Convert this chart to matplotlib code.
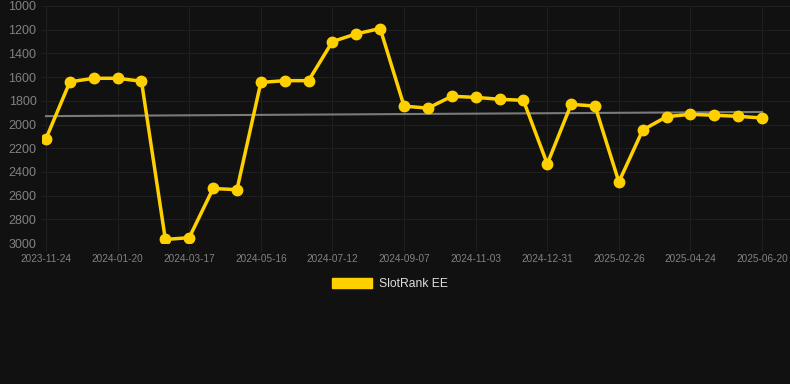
import matplotlib
matplotlib.use("Agg")
import matplotlib.pyplot as plt
import numpy as np

plt.rcParams['font.family'] = ['Liberation Sans', 'DejaVu Sans']

tick_labels = ["2023-11-24", "2024-01-20", "2024-03-17", "2024-05-16", "2024-07-12",
               "2024-09-07", "2024-11-03", "2024-12-31", "2025-02-26", "2025-04-24",
               "2025-06-20"]
ranks = [2120, 1640, 1610, 1610, 1635, 2970, 2955, 2540, 2550, 1645,
         1630, 1630, 1300, 1235, 1190, 1845, 1862, 1762, 1771, 1787,
         1796, 2333, 1830, 1844, 2485, 2046, 1934, 1914, 1922, 1931, 1945]
series_name = "SlotRank EE"

bg = "#111111"
fig = plt.figure(figsize=(7.9, 3.84), dpi=100, facecolor=bg)
ax = fig.add_axes([42/790, 1 - 243/384, 748/790, (243 - 6)/384], facecolor=bg)

x = np.arange(len(ranks))
y = np.array(ranks, dtype=float)

# trend line (linear regression)
coef = np.polyfit(x, y, 1)
ax.plot([x[0], x[-1]], np.polyval(coef, [x[0], x[-1]]), color="#7a7a7a", lw=1.5, zorder=2)

ax.plot(x, y, color="#FFD000", lw=2.5, marker="o", markersize=7.5,
        markerfacecolor="#FFD000", markeredgecolor="#FFD000", zorder=3, label=series_name)

step = 23.87
ax.set_ylim(3000, 1000)
ax.set_yticks(np.arange(1000, 3001, 200))
ax.set_xlim(-4/step, (790 - 46)/step)
ax.set_xticks(np.arange(0, len(ranks), 3))
ax.set_xticklabels(tick_labels)

ax.grid(True, color="#1f1f1f", lw=0.8)
for s in ax.spines.values():
    s.set_visible(False)
ax.tick_params(axis='y', length=0, labelsize=9, labelcolor="#828282", pad=4)
ax.tick_params(axis='x', length=6, color="#1f1f1f", labelsize=7.2, labelcolor="#828282", pad=2)
ax.axhline(3000, color="#262626", lw=0.8, zorder=1)

leg = fig.legend(handles=[plt.Rectangle((0, 0), 1, 1, color="#FFD000")], labels=[series_name],
                 loc="center", bbox_to_anchor=(390/790, 1 - 284/384), frameon=False,
                 handlelength=3.3, handleheight=0.9, handletextpad=0.55,
                 fontsize=8.7, labelcolor="#dddddd")

fig.savefig("out.png", dpi=100, facecolor=bg)
